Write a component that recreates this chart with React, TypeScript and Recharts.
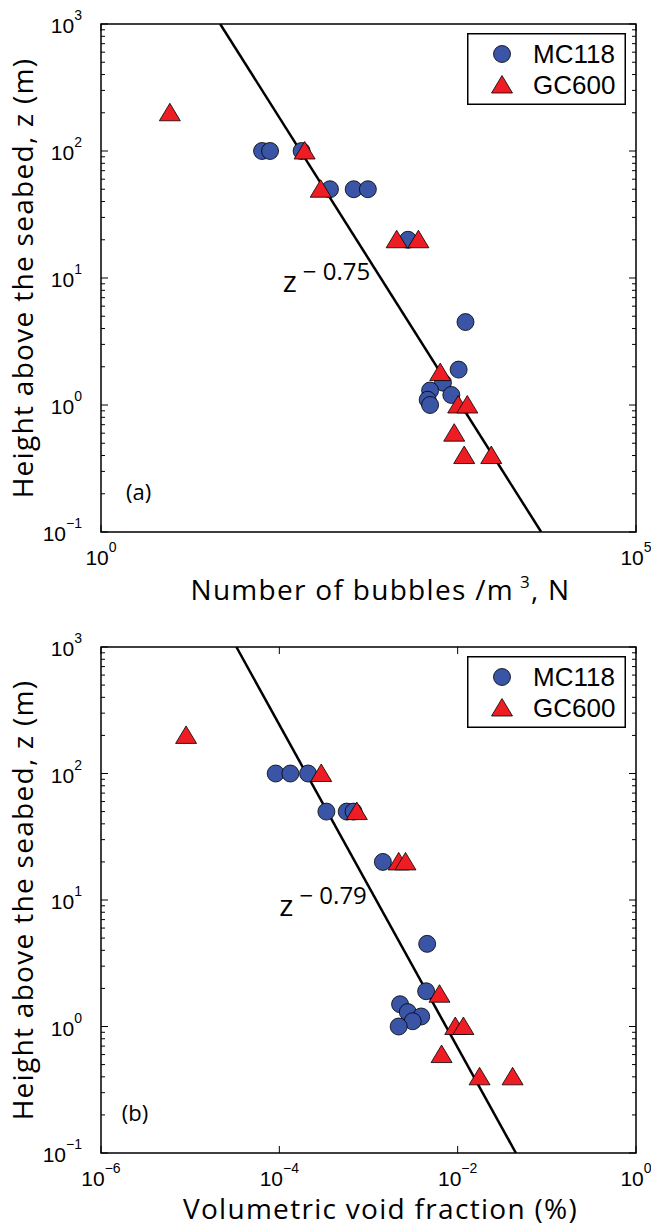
import {
  ScatterChart,
  Scatter,
  XAxis,
  YAxis,
  ReferenceArea,
  ReferenceDot,
  Legend,
} from "recharts";

// height above seabed (m), shared by both panels
const mc118Z = [100, 100, 100, 50, 50, 50, 20, 4.5, 1.9, 1.5, 1.3, 1.2, 1.1, 1.0];
const gc600Z = [200, 100, 50, 20, 20, 1.8, 1.0, 1.0, 0.6, 0.4, 0.4];

// (a) number of bubbles per m^3
const mc118N = [32, 38, 75, 138, 230, 312, 740, 2550, 2200, 1570, 1190, 1880, 1130, 1190];
const gc600N = [4.4, 80, 113, 580, 925, 1480, 2180, 2650, 2000, 2480, 4440];

// (b) volumetric void fraction (%)
const mc118Void = [9.1e-5, 1.33e-4, 2.1e-4, 3.37e-4, 5.7e-4, 6.8e-4, 1.45e-3, 4.55e-3, 4.43e-3, 2.26e-3, 2.76e-3, 3.9e-3, 3.13e-3, 2.18e-3];
const gc600Void = [9.0e-6, 2.95e-4, 7.4e-4, 2.18e-3, 2.6e-3, 6.25e-3, 9.4e-3, 1.16e-2, 6.6e-3, 1.76e-2, 4.13e-2];

// power-law fits z^-0.75 and z^-0.79 (end points)
const fitZ = [1000, 0.1];
const fitN = [13, 13000];
const fitVoid = [3.3e-5, 4.5e-2];

// axis ticks
const yMajorTicks = [0.1, 1, 10, 100, 1000];
const yMinorSteps = [2, 3, 4, 5, 6, 7, 8, 9];
const yTicks = [
  ...yMajorTicks,
  ...yMajorTicks.slice(0, -1).flatMap((d) => yMinorSteps.map((m) => m * d)),
];
const xTicksA = [1, 100000];
const xTicksB = [1e-6, 1e-4, 1e-2, 1];

const W = 651;
const H = 613;
const PLOT_RIGHT = 636;

const BLUE = "#3A55A5";
const RED = "#EE1D24";
const TICK_FONT = "'Liberation Sans', Arial, sans-serif";
const LABEL_FONT = "'Open Sans', sans-serif";

const pairs = (xs: number[], zs: number[]) => xs.map((x, i) => ({ x, z: zs[i] }));

const expOf = (v: number) => {
  const e = Math.round(Math.log10(v));
  return { e, major: Math.abs(Math.log10(v) - e) < 1e-6 };
};
const expText = (e: number) => (e < 0 ? `\u2212${-e}` : `${e}`);

const Circle = (props: any) => (
  <circle cx={props.cx} cy={props.cy} r={8.5} fill={BLUE} stroke="#000" strokeWidth={0.8} />
);

const Triangle = (props: any) => {
  const { cx, cy } = props;
  return (
    <polygon
      points={`${cx},${cy - 9.5} ${cx - 10.5},${cy + 8} ${cx + 10.5},${cy + 8}`}
      fill={RED}
      stroke="#000"
      strokeWidth={0.8}
    />
  );
};

const NoDot = () => <g />;

const makeYTick = () => (props: any) => {
  const { x, y, payload } = props;
  const { e, major } = expOf(payload.value);
  const len = major ? 7 : 4;
  return (
    <g>
      <line x1={x} x2={x + len} y1={y} y2={y} stroke="#000" strokeWidth={1} />
      <line x1={PLOT_RIGHT - len} x2={PLOT_RIGHT} y1={y} y2={y} stroke="#000" strokeWidth={1} />
      {major && (
        <text x={x - 19} y={y + 9} textAnchor="end" fontFamily={TICK_FONT} fontSize={21} fill="#000">
          10
          <tspan dy={-13} fontSize={14}>
            {expText(e)}
          </tspan>
        </text>
      )}
    </g>
  );
};

const makeXTick = (plotTop: number) => (props: any) => {
  const { x, y, payload } = props;
  const { e } = expOf(payload.value);
  return (
    <g>
      <line x1={x} x2={x} y1={y} y2={y - 7} stroke="#000" strokeWidth={1} />
      <line x1={x} x2={x} y1={plotTop} y2={plotTop + 7} stroke="#000" strokeWidth={1} />
      <text x={x} y={y + 33} textAnchor="middle" fontFamily={TICK_FONT} fontSize={21} fill="#000">
        10
        <tspan dy={-13} fontSize={14}>
          {expText(e)}
        </tspan>
      </text>
    </g>
  );
};

const LegendBox = () => (
  <svg width={159} height={72} style={{ display: "block" }}>
    <rect x={0.75} y={0.75} width={157.5} height={70.5} fill="#fff" stroke="#000" strokeWidth={1.5} />
    <Circle cx={35} cy={21} />
    <text x={66} y={30} fontFamily={TICK_FONT} fontSize={26} fill="#000">MC118</text>
    <Triangle cx={35} cy={52} />
    <text x={66} y={61} fontFamily={TICK_FONT} fontSize={26} fill="#000">GC600</text>
  </svg>
);

interface PanelProps {
  top: number;
  plotTop: number;
  plotBottom: number;
  xDomain: [number, number];
  xTicks: number[];
  mc118: { x: number; z: number }[];
  gc600: { x: number; z: number }[];
  fit: { x: number; z: number }[];
  xLabel: React.ReactNode;
  xLabelDy: number;
  fitLabel: string;
  fitAt: { x: number; z: number };
  tag: string;
  tagAt: { x: number; z: number };
}

function Panel(p: PanelProps) {
  const marginBottom = H - p.plotBottom - 40;
  return (
    <div style={{ position: "absolute", left: 0, top: p.top, width: W, height: H }}>
      <ScatterChart
        width={W}
        height={H}
        margin={{ top: p.plotTop, right: W - PLOT_RIGHT, bottom: marginBottom, left: 41 }}
      >
        <XAxis
          type="number"
          dataKey="x"
          scale="log"
          domain={p.xDomain}
          allowDataOverflow
          ticks={p.xTicks}
          interval={0}
          height={40}
          tickSize={0}
          tickMargin={0}
          axisLine={false}
          tickLine={false}
          tick={makeXTick(p.plotTop)}
          label={{
            content: (lp: any) => {
              const vb = lp.viewBox;
              return (
                <text
                  x={vb.x + vb.width / 2 + 12}
                  y={vb.y + p.xLabelDy}
                  textAnchor="middle"
                  fontFamily={LABEL_FONT}
                  fontSize={28}
                  letterSpacing={1.3}
                  fill="#000"
                >
                  {p.xLabel}
                </text>
              );
            },
          }}
        />
        <YAxis
          type="number"
          dataKey="z"
          scale="log"
          domain={[0.1, 1000]}
          allowDataOverflow
          ticks={yTicks}
          interval={0}
          width={60}
          tickSize={0}
          tickMargin={0}
          axisLine={false}
          tickLine={false}
          tick={makeYTick()}
          label={{
            content: (lp: any) => {
              const vb = lp.viewBox;
              const cy = vb.y + vb.height / 2;
              return (
                <text
                  x={33}
                  y={cy}
                  transform={`rotate(-90 33 ${cy})`}
                  textAnchor="middle"
                  fontFamily={LABEL_FONT}
                  fontSize={28}
                  letterSpacing={1.3}
                  fill="#000"
                >
                  Height above the seabed, z (m)
                </text>
              );
            },
          }}
        />
        <ReferenceArea
          x1={p.xDomain[0]}
          x2={p.xDomain[1]}
          y1={0.1}
          y2={1000}
          fill="none"
          stroke="#000"
          strokeWidth={1.5}
          ifOverflow="visible"
        />
        <Scatter
          name="fit"
          data={p.fit}
          line={{ stroke: "#000", strokeWidth: 2.5 }}
          shape={NoDot}
          legendType="none"
          isAnimationActive={false}
        />
        <Scatter name="MC118" data={p.mc118} shape={Circle} isAnimationActive={false} />
        <Scatter name="GC600" data={p.gc600} shape={Triangle} isAnimationActive={false} />
        <ReferenceDot
          x={p.fitAt.x}
          y={p.fitAt.z}
          ifOverflow="visible"
          shape={(sp: any) => (
            <text x={sp.cx} y={sp.cy} fontFamily={LABEL_FONT} fontSize={30} fill="#000">
              z
              <tspan dx={6} dy={-12} fontSize={24}>
                {p.fitLabel}
              </tspan>
            </text>
          )}
        />
        <ReferenceDot
          x={p.tagAt.x}
          y={p.tagAt.z}
          ifOverflow="visible"
          shape={(sp: any) => (
            <text x={sp.cx} y={sp.cy} dominantBaseline="central" fontFamily={LABEL_FONT} fontSize={22} fill="#000">
              {p.tag}
            </text>
          )}
        />
        <Legend
          layout="vertical"
          align="center"
          verticalAlign="middle"
          width={159}
          height={72}
          wrapperStyle={{ left: 467, top: p.plotTop + 9, width: 159, height: 72 }}
          content={() => <LegendBox />}
        />
      </ScatterChart>
    </div>
  );
}

export default function App() {
  return (
    <div style={{ position: "absolute", left: 0, top: 0, width: W, height: 1226, background: "#fff" }}>
      <Panel
        top={0}
        plotTop={24}
        plotBottom={532}
        xDomain={[1, 100000]}
        xTicks={xTicksA}
        mc118={pairs(mc118N, mc118Z)}
        gc600={pairs(gc600N, gc600Z)}
        fit={pairs(fitN, fitZ)}
        xLabel={
          <>
            Number of bubbles /m
            <tspan dx={6} dy={-12} fontSize={17}>3</tspan>
            <tspan dy={12}>, N</tspan>
          </>
        }
        xLabelDy={68}
        fitLabel={"\u2212 0.75"}
        fitAt={{ x: 50, z: 7.8 }}
        tag="(a)"
        tagAt={{ x: 1.71, z: 0.21 }}
      />
      <Panel
        top={613}
        plotTop={34}
        plotBottom={540}
        xDomain={[1e-6, 1]}
        xTicks={xTicksB}
        mc118={pairs(mc118Void, mc118Z)}
        gc600={pairs(gc600Void, gc600Z)}
        fit={pairs(fitVoid, fitZ)}
        xLabel="Volumetric void fraction (%)"
        xLabelDy={66}
        fitLabel={"\u2212 0.79"}
        fitAt={{ x: 1.0e-4, z: 7.5 }}
        tag="(b)"
        tagAt={{ x: 1.71e-6, z: 0.21 }}
      />
    </div>
  );
}
